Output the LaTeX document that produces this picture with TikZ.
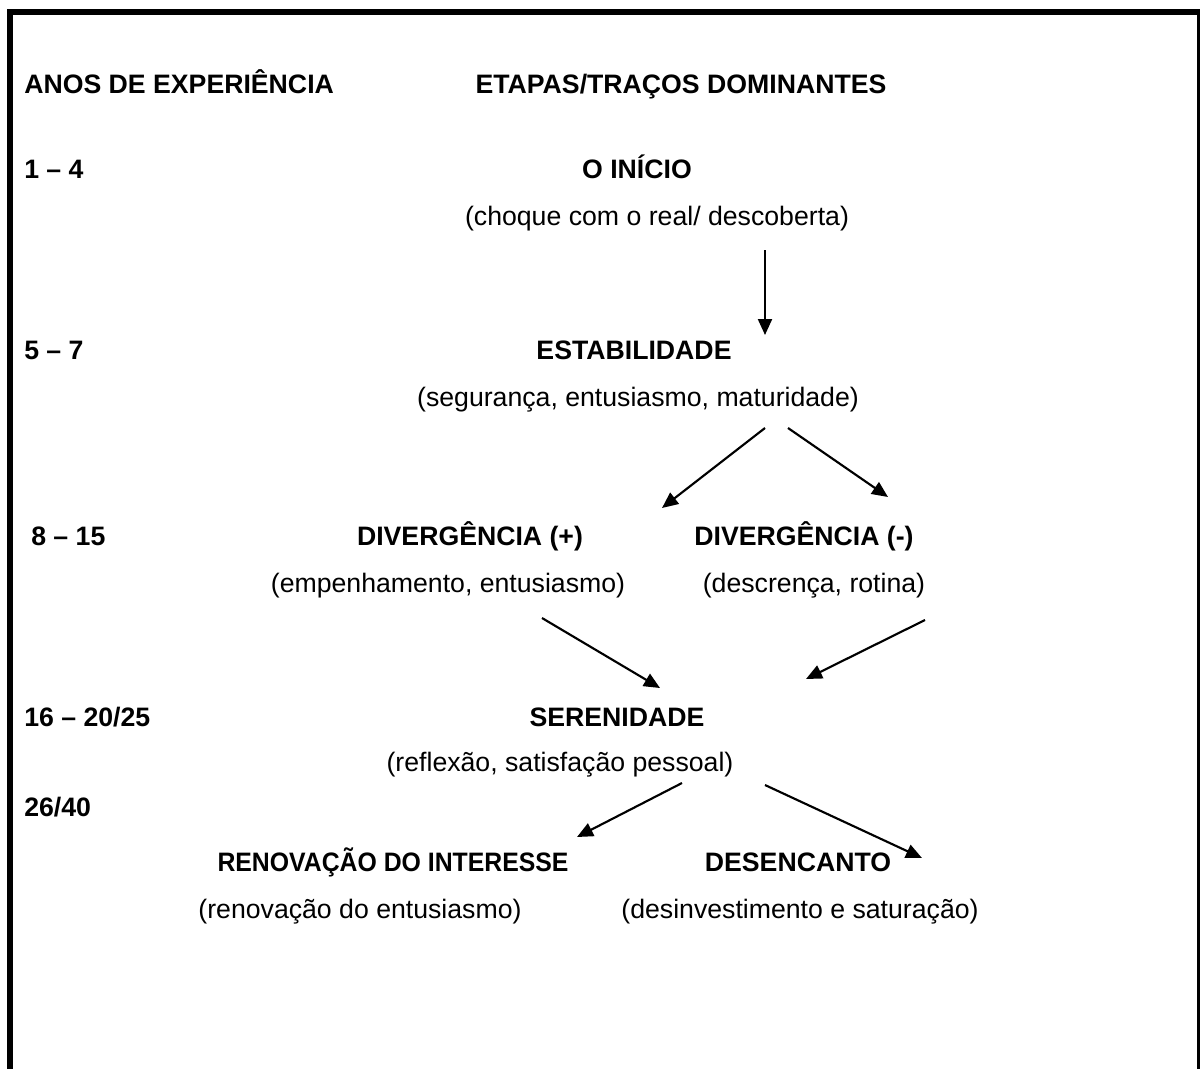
\documentclass[tikz,border=0pt]{standalone}
\usepackage{fontspec}
\setmainfont{Liberation Sans}
\usetikzlibrary{arrows.meta}
\tikzset{
  lbl/.style={inner sep=0pt, anchor=base, font=\fontsize{20}{24}\selectfont},
  ttl/.style={lbl, font=\fontsize{20}{24}\selectfont\bfseries},
  yrs/.style={ttl, anchor=base west},
  arr/.style={line width=1.6pt, -{Triangle[length=12pt,width=10.5pt]}},
  frame/.style={line width=4.5pt}
}
\begin{document}
\begin{tikzpicture}[x=0.75pt,y=-0.75pt]
\useasboundingbox (0,0) rectangle (1200,1068);
\draw[frame] (10,1070) -- (10,12) -- (1199.5,12) -- (1199.5,1070);
% header
\node[yrs] (hanos) at (24,93) {ANOS DE EXPERIÊNCIA};
\node[ttl] (hetap) at (681,93) {ETAPAS/TRAÇOS DOMINANTES};
% years
\node[yrs] (y1) at (24,178) {1 – 4};
\node[yrs] (y2) at (24,359) {5 – 7};
\node[yrs] (y3) at (31,545) {8 – 15};
\node[yrs] (y4) at (24,726) {16 – 20/25};
\node[yrs] (y5) at (24,816) {26/40};
% stages
\node[ttl] (init) at (637,178) {O INÍCIO};
\node[lbl] (inip) at (657,225) {(choque com o real/ descoberta)};
\node[ttl] (estt) at (634,359) {ESTABILIDADE};
\node[lbl] (estp) at (638,406) {(segurança, entusiasmo, maturidade)};
\node[ttl] (divpt) at (470,545) {DIVERGÊNCIA (+)};
\node[lbl] (divpp) at (448,592) {(empenhamento, entusiasmo)};
\node[ttl] (divmt) at (804,545) {DIVERGÊNCIA (-)};
\node[lbl] (divmp) at (814,592) {(descrença, rotina)};
\node[ttl] (sert) at (617,726) {SERENIDADE};
\node[lbl] (serp) at (560,771) {(reflexão, satisfação pessoal)};
\node[ttl] (rent) at (393,871) {\scalebox{0.93}[1]{RENOVAÇÃO DO INTERESSE}};
\node[lbl] (renp) at (360,918) {(renovação do entusiasmo)};
\node[ttl] (dest) at (798,871) {DESENCANTO};
\node[lbl] (desp) at (800,918) {(desinvestimento e saturação)};
% arrows
\draw[arr] ([shift={(108,25)}]inip.base) -- ([shift={(131,-24)}]estt.base);
\draw[arr] ([shift={(127,22)}]estp.base) -- ([shift={(192,-37)}]divpt.base);
\draw[arr] ([shift={(150,22)}]estp.base) -- ([shift={(84,-48)}]divmt.base);
\draw[arr] ([shift={(94,26)}]divpp.base) -- ([shift={(43,-38)}]sert.base);
\draw[arr] ([shift={(111,28)}]divmp.base) -- ([shift={(189,-47)}]sert.base);
\draw[arr] ([shift={(122,12)}]serp.base) -- ([shift={(184,-34)}]rent.base);
\draw[arr] ([shift={(205,14)}]serp.base) -- ([shift={(124,-13)}]dest.base);
\end{tikzpicture}
\end{document}
